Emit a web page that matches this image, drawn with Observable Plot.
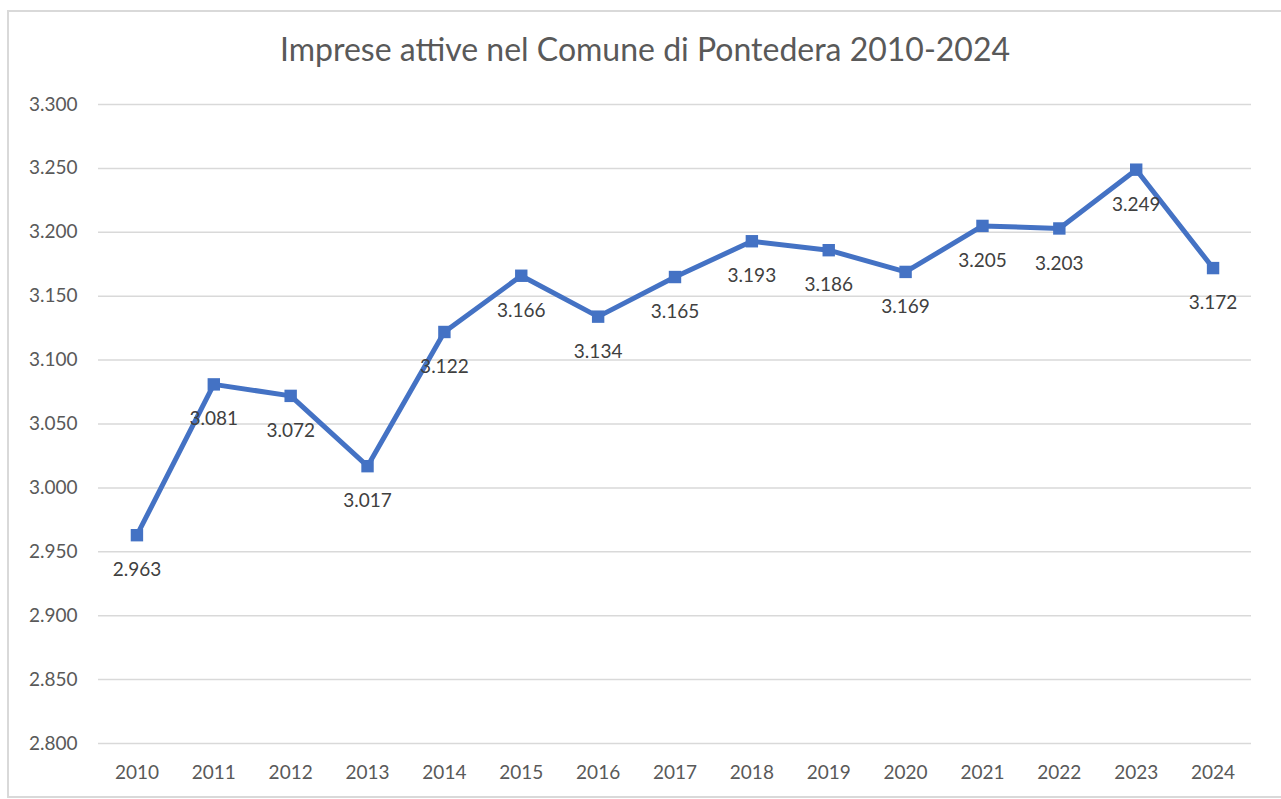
<!DOCTYPE html>
<html><head><meta charset="utf-8">
<script src="https://cdn.jsdelivr.net/npm/d3@7"></script>
<script src="https://cdn.jsdelivr.net/npm/@observablehq/plot@0.6"></script>
<style>
html,body{margin:0;padding:0;background:#fff;overflow:hidden;width:1281px;height:799px;}
#wrap{position:relative;width:1281px;height:799px;font-family:Lato,"Open Sans",sans-serif;}
#frame{position:absolute;left:7px;top:10px;width:1300px;height:788px;border:2px solid #d9d9d9;box-sizing:border-box;}
#title{position:absolute;left:7px;width:1276px;top:29px;text-align:center;font-size:32px;line-height:40px;color:#595959;}
#chart{position:absolute;left:0;top:90px;}
</style></head>
<body><div id="wrap"><div id="frame"></div><div id="title">Imprese attive nel Comune di Pontedera 2010-2024</div><div id="chart"></div></div>
<script>
const years = ["2010","2011","2012","2013","2014","2015","2016","2017","2018","2019","2020","2021","2022","2023","2024"];
const imprese = [2963,3081,3072,3017,3122,3166,3134,3165,3193,3186,3169,3205,3203,3249,3172];
const yTicks = [2800,2850,2900,2950,3000,3050,3100,3150,3200,3250,3300];

const data = years.map((y,i)=>({anno:y, valore:imprese[i]}));
const it = d3.formatLocale({decimal:",", thousands:".", grouping:[3], currency:["€",""]});
const fmt = it.format(",");

const chart = Plot.plot({
  width:1281, height:709,
  marginLeft:98, marginRight:30, marginTop:14, marginBottom:56,
  style:{fontFamily:"Lato, 'Open Sans', sans-serif", background:"transparent"},
  x:{type:"point", domain:years, padding:0.5, round:false, label:null, tickSize:0, tickPadding:22},
  y:{domain:[2800,3300], ticks:yTicks, tickFormat:fmt, label:null, tickSize:0, tickPadding:21},
  marks:[
    Plot.gridY(yTicks,{stroke:"#d9d9d9", strokeOpacity:1, strokeWidth:1.5}),
    Plot.axisX({tickSize:0, tickPadding:22, fontSize:19, fill:"#595959", label:null}),
    Plot.axisY({ticks:yTicks, tickFormat:fmt, tickSize:0, tickPadding:21, fontSize:19, fill:"#595959", label:null}),
    Plot.line(data,{x:"anno", y:"valore", stroke:"#4472C4", strokeWidth:5, strokeLinejoin:"round"}),
    Plot.dot(data,{x:"anno", y:"valore", symbol:"square", r:7, fill:"#4472C4", stroke:"none"}),
    Plot.text(data,{x:"anno", y:"valore", text:d=>fmt(d.valore), dy:35, fontSize:19, fill:"#404040"})
  ]
});
document.getElementById("chart").appendChild(chart);
</script></body></html>
